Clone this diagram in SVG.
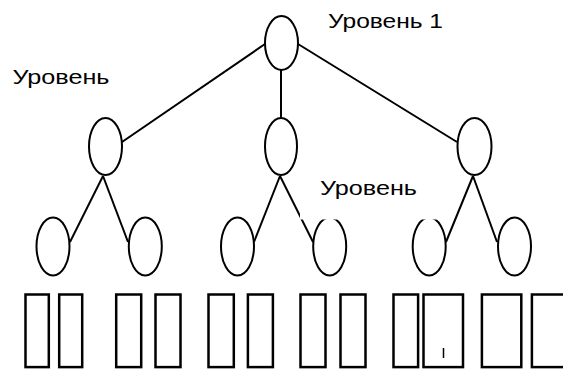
<svg xmlns="http://www.w3.org/2000/svg" width="563" height="369" viewBox="0 0 563 369">
<style>
.n{fill:#fff;stroke:#000;stroke-width:2}
.c line{stroke:#000;stroke-width:2}
.b{fill:#fff;stroke:#000;stroke-width:2.5}
.t{font-family:"Liberation Sans","DejaVu Sans",sans-serif;font-size:21px;fill:#000}
</style>
<rect width="563" height="369" fill="#fff"/>
<g id="connectors" class="c">
<line x1="265" y1="44" x2="122" y2="142"/>
<line x1="298" y1="44" x2="457" y2="142"/>
<line x1="281" y1="70" x2="281" y2="118"/>
<line x1="103" y1="176" x2="70" y2="242"/>
<line x1="103" y1="176" x2="128" y2="242"/>
<line x1="280" y1="176" x2="254" y2="242"/>
<line x1="280" y1="176" x2="313" y2="242"/>
<line x1="473" y1="176" x2="446" y2="242"/>
<line x1="473" y1="176" x2="497" y2="242"/>
</g>
<g id="root"><ellipse class="n" cx="281.5" cy="43" rx="16.5" ry="27"/></g>
<g id="l2a"><ellipse class="n" cx="105.5" cy="146.5" rx="16.5" ry="28.5"/></g>
<g id="l2b"><ellipse class="n" cx="281" cy="146.5" rx="16" ry="28.5"/></g>
<g id="l2c"><ellipse class="n" cx="474.5" cy="146.5" rx="17" ry="28.5"/></g>
<g id="l3a"><ellipse class="n" cx="53" cy="246.5" rx="16.5" ry="29"/></g>
<g id="l3b"><ellipse class="n" cx="145.3" cy="246.5" rx="16.5" ry="29"/></g>
<g id="l3c"><ellipse class="n" cx="237.5" cy="246.5" rx="16.5" ry="29"/></g>
<g id="l3d"><ellipse class="n" cx="329.7" cy="246.5" rx="16.5" ry="29"/></g>
<g id="l3e"><ellipse class="n" cx="429.2" cy="246.5" rx="16.5" ry="29"/></g>
<g id="l3f"><ellipse class="n" cx="514.5" cy="246.5" rx="16.5" ry="29"/></g>
<rect x="300" y="203" width="150" height="16.5" fill="#fff"/>
<g id="leaves">
<rect class="b" x="25.5" y="294.5" width="23.3" height="72.6"/>
<rect class="b" x="59.2" y="294.5" width="23" height="72.6"/>
<rect class="b" x="116.2" y="294.5" width="25" height="72.6"/>
<rect class="b" x="155.5" y="294.5" width="25" height="72.6"/>
<rect class="b" x="208.5" y="294.5" width="25.3" height="72.6"/>
<rect class="b" x="247.9" y="294.5" width="25" height="72.6"/>
<rect class="b" x="300.5" y="294.5" width="25" height="72.6"/>
<rect class="b" x="340.5" y="294.5" width="25" height="72.6"/>
<rect class="b" x="393.5" y="294.5" width="24.6" height="72.6"/>
<rect class="b" x="423.5" y="294.5" width="39.5" height="72.6"/>
<rect class="b" x="481.9" y="294.5" width="39.4" height="72.6"/>
<rect class="b" x="531.9" y="294.5" width="40" height="72.6"/>
<line x1="443.5" y1="348" x2="443.5" y2="358" stroke="#000" stroke-width="1.5"/>
</g>
<g id="labels">
<text class="t" x="328" y="27.5" textLength="115" lengthAdjust="spacingAndGlyphs">Уровень 1</text>
<text class="t" x="12.5" y="84" textLength="97" lengthAdjust="spacingAndGlyphs">Уровень</text>
<text class="t" x="320" y="195" textLength="97" lengthAdjust="spacingAndGlyphs">Уровень</text>
</g>
</svg>
